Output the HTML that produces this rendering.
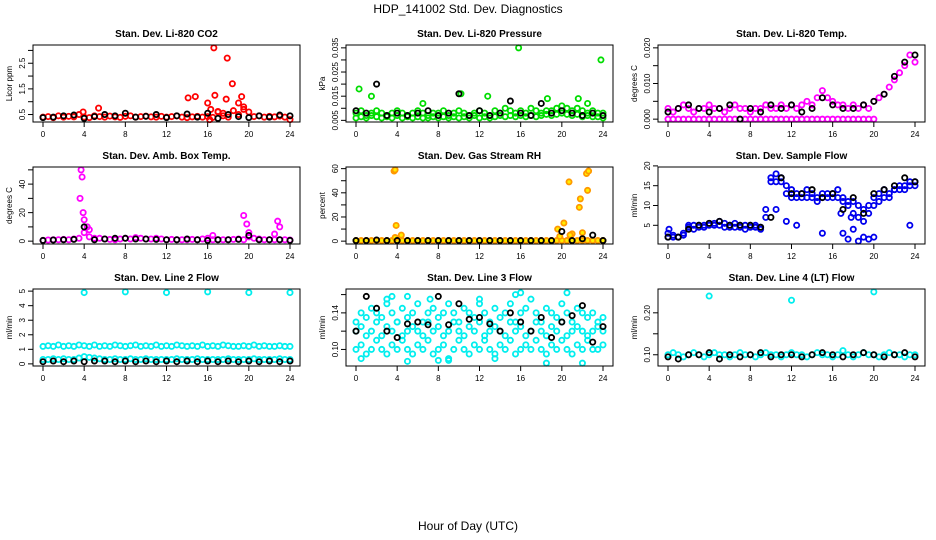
<!DOCTYPE html>
<html><head><meta charset="utf-8">
<style>
html,body{margin:0;padding:0;background:#fff;}
svg{display:block;font-family:"Liberation Sans",sans-serif;}
</style></head>
<body>
<svg id="chart" width="936" height="540" viewBox="0 0 936 540" xmlns="http://www.w3.org/2000/svg">
<rect width="936" height="540" fill="#fff"/>
<text x="468" y="13" text-anchor="middle" font-size="12">HDP_141002  Std. Dev. Diagnostics</text>
<text x="468" y="530" text-anchor="middle" font-size="12">Hour of Day (UTC)</text>
</svg>
<script>
const hours = [0,0.5,1,1.5,2,2.5,3,3.5,4,4.5,5,5.5,6,6.5,7,7.5,8,8.5,9,9.5,10,10.5,11,11.5,12,12.5,13,13.5,14,14.5,15,15.5,16,16.5,17,17.5,18,18.5,19,19.5,20,20.5,21,21.5,22,22.5,23,23.5,24];
const hourly = [0,1,2,3,4,5,6,7,8,9,10,11,12,13,14,15,16,17,18,19,20,21,22,23,24];
const xTicks = [0,4,8,12,16,20,24];

// Panel 1 CO2
const co2Red = [0.4,0.42,0.38,0.45,0.4,0.43,0.41,0.5,0.4,0.38,0.45,0.42,0.4,0.44,0.41,0.39,0.43,0.45,0.4,0.42,0.44,0.41,0.4,0.43,0.4,0.42,0.45,0.4,0.38,0.41,0.43,0.4,0.42,0.39,0.6,0.45,0.4,0.65,0.5,0.7,0.6,0.42,0.45,0.4,0.43,0.41,0.44,0.4,0.3];
const co2RedOutX = [5.4,14.1,14.8,16.0,16.3,16.6,16.7,17.8,17.9,18.4,19.0,19.3,19.5,17.0,17.5,3.9,16.2];
const co2RedOutY = [0.75,1.15,1.2,0.95,0.7,3.1,1.25,1.1,2.7,1.7,0.95,1.2,0.8,0.62,0.55,0.6,0.3];
const co2Black = [0.38,0.4,0.45,0.48,0.35,0.42,0.5,0.45,0.55,0.4,0.43,0.5,0.38,0.45,0.52,0.4,0.55,0.35,0.5,0.42,0.38,0.45,0.4,0.48,0.45];

// Panel 2 Pressure
const presGreen1 = [0.008,0.009,0.007,0.008,0.009,0.008,0.007,0.008,0.009,0.008,0.007,0.008,0.009,0.008,0.007,0.008,0.008,0.009,0.007,0.008,0.009,0.008,0.007,0.008,0.009,0.008,0.007,0.009,0.008,0.01,0.009,0.008,0.009,0.008,0.01,0.009,0.008,0.009,0.009,0.01,0.011,0.01,0.009,0.01,0.009,0.008,0.009,0.008,0.008];
const presGreen2 = [0.006,0.0065,0.006,0.007,0.0065,0.006,0.0065,0.006,0.007,0.006,0.0065,0.006,0.0065,0.006,0.006,0.0065,0.006,0.0065,0.006,0.0065,0.006,0.0065,0.006,0.007,0.006,0.0065,0.006,0.0065,0.007,0.0065,0.007,0.0065,0.007,0.0065,0.007,0.0065,0.007,0.0075,0.007,0.0075,0.008,0.0075,0.007,0.0075,0.0065,0.007,0.0065,0.0065,0.006];
const presOutX = [0.3,10.2,12.8,15.8,23.8,21.6,1.5,18.6,6.5,22.5];
const presOutY = [0.018,0.016,0.015,0.035,0.030,0.014,0.015,0.014,0.012,0.012];
const presBlack = [0.009,0.008,0.02,0.007,0.008,0.007,0.008,0.009,0.007,0.008,0.016,0.007,0.009,0.007,0.008,0.013,0.008,0.007,0.012,0.008,0.009,0.008,0.007,0.008,0.007];

// Panel 3 Temp
const tempPink = [0.003,0.002,0.003,0.004,0.003,0.002,0.003,0.003,0.004,0.003,0.003,0.002,0.003,0.004,0.003,0.003,0.002,0.003,0.003,0.004,0.003,0.003,0.004,0.003,0.004,0.003,0.004,0.005,0.004,0.006,0.008,0.006,0.005,0.004,0.004,0.003,0.004,0.003,0.004,0.003,0.005,0.006,0.007,0.009,0.011,0.013,0.015,0.018,0.016];
const tempPinkZero = [0,0,0,0,0,0,0,0,0,0,0,0,0,0,0,0,0,0,0,0,0,0,0,0,0,0,0,0,0,0,0,0,0,0,0,0,0,0,0,0,0];
const tempBlack = [0.002,0.003,0.004,0.003,0.002,0.003,0.004,0,0.003,0.002,0.004,0.003,0.004,0.002,0.003,0.006,0.004,0.003,0.003,0.004,0.005,0.007,0.012,0.016,0.018];

// Panel 4 Amb Box
const ambMag = [0.5,0.8,1,1,1.2,1,1.5,2,6,3,2,2,1.5,1.2,1,1.5,2,1.5,2.5,2,1.5,1.5,2,1.5,1,1.2,1,1,1,1.2,1,1.5,2,1,1,1,1,1.2,1.5,1,3,2,1.5,1,1,1,1,1,0.8];
const ambOutX = [3.7,3.8,3.9,4.0,4.3,4.5,3.6,19.5,19.8,20,22.8,23,22.5,16.5];
const ambOutY = [50,45,20,15,10,8,30,18,12,6,14,10,5,4];
const ambBlack = [0.5,0.8,1,1.2,10,1,1.5,2,2,1.5,1.5,1.2,1,1,1.5,1,0.5,1,1,1.2,4,1,1,1,0.5];

// Panel 5 RH
const rhOrange = [0.5,0.5,0.5,0.5,0.5,0.5,0.5,0.5,0.5,0.5,0.5,0.5,0.5,0.5,0.5,0.5,0.5,0.5,0.5,0.5,0.5,0.5,0.5,0.5,0.5,0.5,0.5,0.5,0.5,0.5,0.5,0.5,0.5,0.5,0.5,0.5,0.5,0.5,0.5,0.5,0.5,0.5,0.5,0.5,0.5,0.5,0.5,0.5,0.5];
const rhOutX = [3.7,3.8,3.9,4.4,3.8,19.6,20.2,20.7,21.8,21.7,22.4,22.6,22.5,21.0,22.0,19.8,20.8];
const rhOutY = [58,59,13,5,3,10,15,49,35,28,56,58,42,6,7,4,5];
const rhBlack = [0.5,0.5,1,0.5,0.5,0.5,0.5,0.5,0.5,0.5,0.5,0.5,0.5,0.5,0.5,0.5,0.5,0.5,0.5,0.5,8,0.5,2,5,0.5];

// Panel 6 Sample Flow
const flowBlue1 = [2,2,2,2.5,5,5,5,5,5.5,5.5,6,5.5,5,5.5,5,5,5,5,4.5,7,17,18,17,15,14,13,13,14,13,12,13,13,13,14,12,11,11,10,9,10,10,13,14,13,14,15,15,16,16];
const flowBlue2 = [3,2.5,2,3,4.5,4,4.5,4.5,5,5,5,4.5,4.5,4.5,4.5,4,4.5,4.5,4,9,16,16,16,13,12,12,12,12,12,11,12,12,12,12,11,10,8,7,6,8,12,11,12,12,14,14,14,15,15];
const flowOutX = [11.5,12.5,15,17,17.5,18,18.5,19,19.5,20,17.8,23.5,0.1,16.8,10.5];
const flowOutY = [6,5,3,3,1.5,4,1,2,1.5,2,7,5,4,8,9];
const flowBlack = [2,2,4,5,5.5,6,5,5,5,4.5,7,17,13,13,14,12,13,9,12,8,13,14,15,17,16];

// Panel 7 Line 2
const l2Cyan = [1.2,1.25,1.2,1.3,1.2,1.25,1.2,1.3,1.25,1.2,1.3,1.2,1.25,1.2,1.3,1.25,1.2,1.25,1.3,1.2,1.25,1.2,1.3,1.2,1.25,1.2,1.3,1.25,1.2,1.25,1.2,1.3,1.2,1.25,1.2,1.3,1.25,1.2,1.2,1.25,1.2,1.3,1.2,1.25,1.2,1.2,1.25,1.2,1.2];
const l2CyanLow = [0.3,0.3,0.35,0.3,0.35,0.3,0.3,0.4,0.5,0.45,0.4,0.35,0.3,0.3,0.35,0.3,0.3,0.35,0.3,0.3,0.35,0.3,0.3,0.3,0.3,0.3,0.35,0.3,0.3,0.3,0.35,0.3,0.3,0.3,0.3,0.3,0.35,0.3,0.3,0.3,0.3,0.35,0.3,0.3,0.3,0.3,0.35,0.3,0.3];
const l2OutX = [4,8,12,16,20,24];
const l2OutY = [4.9,4.95,4.9,4.95,4.9,4.9];
const l2Black = [0.15,0.2,0.15,0.2,0.15,0.2,0.2,0.15,0.2,0.15,0.2,0.15,0.2,0.15,0.2,0.15,0.2,0.15,0.2,0.15,0.2,0.15,0.2,0.15,0.2];

// Panel 8 Line 3
const l3CyanA = [0.13,0.14,0.135,0.145,0.14,0.135,0.15,0.14,0.13,0.145,0.135,0.14,0.15,0.13,0.14,0.145,0.135,0.14,0.15,0.14,0.13,0.145,0.14,0.135,0.15,0.14,0.13,0.145,0.135,0.14,0.15,0.13,0.14,0.145,0.155,0.14,0.13,0.145,0.14,0.135,0.15,0.14,0.13,0.145,0.14,0.135,0.14,0.13,0.135];
const l3CyanB = [0.1,0.105,0.095,0.1,0.11,0.1,0.095,0.105,0.1,0.11,0.1,0.095,0.105,0.1,0.11,0.095,0.1,0.105,0.09,0.1,0.11,0.1,0.095,0.105,0.1,0.11,0.1,0.095,0.105,0.1,0.11,0.095,0.1,0.105,0.1,0.11,0.1,0.095,0.105,0.1,0.11,0.1,0.095,0.105,0.1,0.11,0.1,0.1,0.105];
const l3CyanC = [0.12,0.125,0.115,0.12,0.13,0.115,0.125,0.12,0.13,0.115,0.12,0.125,0.12,0.115,0.13,0.12,0.125,0.115,0.12,0.13,0.12,0.115,0.125,0.12,0.13,0.115,0.12,0.125,0.12,0.115,0.13,0.12,0.125,0.115,0.12,0.13,0.12,0.115,0.125,0.12,0.13,0.115,0.12,0.125,0.12,0.115,0.12,0.125,0.12];
const l3OutX = [3,3.5,5,0.5,9,12,15.5,16,20.5,18.5,5,8,13.5,22,7.2];
const l3OutY = [0.155,0.158,0.158,0.09,0.088,0.155,0.16,0.162,0.162,0.085,0.087,0.088,0.09,0.085,0.155];
const l3Black = [0.12,0.158,0.145,0.12,0.113,0.128,0.13,0.127,0.158,0.127,0.15,0.133,0.135,0.128,0.12,0.14,0.13,0.12,0.135,0.113,0.13,0.137,0.148,0.108,0.125];

// Panel 9 Line 4
const l4Cyan = [0.1,0.105,0.1,0.095,0.1,0.105,0.1,0.095,0.1,0.105,0.1,0.1,0.095,0.1,0.105,0.1,0.1,0.095,0.1,0.105,0.1,0.1,0.095,0.1,0.105,0.1,0.1,0.095,0.1,0.105,0.1,0.1,0.095,0.1,0.11,0.1,0.095,0.1,0.105,0.1,0.1,0.095,0.1,0.105,0.1,0.1,0.095,0.1,0.1];
const l4OutX = [4,12,20];
const l4OutY = [0.24,0.23,0.25];
const l4Black = [0.095,0.09,0.1,0.1,0.105,0.09,0.1,0.095,0.1,0.105,0.095,0.1,0.1,0.095,0.1,0.105,0.1,0.095,0.1,0.105,0.1,0.095,0.1,0.105,0.095];

const svg = document.getElementById('chart');
const NS = 'http://www.w3.org/2000/svg';
function mk(tag, attrs, parent) {
  const e = document.createElementNS(NS, tag);
  for (const k in attrs) e.setAttribute(k, attrs[k]);
  parent.appendChild(e);
  return e;
}

const colX = [33, 346, 658];
const rowY = [45, 167, 289];
const W = 267, Hh = 77;

function panel(col, row, title, ylab, ymin, ymax, yTicks, yLabels, series, key) {
  const x0 = colX[col], y0 = rowY[row];
  const g = mk('g', {}, svg);
  
  
  const pad = (ymax - ymin) * 0.04;
  const lo = ymin - pad, hi = ymax + pad;
  const sx = h => x0 + 10 + (W - 20) * h / 24;
  const sy = v => y0 + Hh - (v - lo) / (hi - lo) * Hh;
  const t = mk('text', {x: x0 + W / 2, y: y0 - 8, 'text-anchor': 'middle', 'font-size': 10, 'font-weight': 'bold'}, g);
  t.textContent = title;
  
  
  series.forEach(s => {
    const sg = mk('g', {fill: s.fill || 'none', stroke: s.color, 'stroke-width': 1.8}, g);
    
    
    s.ys.forEach((v, i) => {
      if (v === null || v === undefined) return;
      const c = mk('circle', {cx: sx(s.xs[i]), cy: sy(v), r: 2.6}, sg);
      
      
    });
  });
  const b = mk('rect', {x: x0, y: y0, width: W, height: Hh, fill: 'none', stroke: '#000', 'stroke-width': 1}, g);
  
  
  xTicks.forEach(h => {
    mk('line', {x1: sx(h), x2: sx(h), y1: y0 + Hh, y2: y0 + Hh + 5, stroke: '#000'}, g);
    const tl = mk('text', {x: sx(h), y: y0 + Hh + 15, 'text-anchor': 'middle', 'font-size': 8}, g);
    tl.textContent = h;
    
    
  });
  yTicks.forEach((v, i) => {
    mk('line', {x1: x0 - 5, x2: x0, y1: sy(v), y2: sy(v), stroke: '#000'}, g);
    if (yLabels[i] !== '') {
      const tl = mk('text', {x: x0 - 8, y: sy(v), 'text-anchor': 'middle', 'font-size': 8, transform: `rotate(-90 ${x0 - 8} ${sy(v)})`}, g);
      tl.textContent = yLabels[i];
      
      
    }
  });
  const yl = mk('text', {x: x0 - 21, y: y0 + Hh / 2, 'text-anchor': 'middle', 'font-size': 8, transform: `rotate(-90 ${x0 - 21} ${y0 + Hh / 2})`}, g);
  yl.textContent = ylab;
  
  
}

const RED = '#ff0000', BLK = '#000', GRN = '#00dd00', PINK = '#ff00ff', ORG = '#ff9900', BLUE = '#0000ee', CYAN = '#00eeee';

panel(0, 0, 'Stan. Dev. Li-820 CO2', 'Licor ppm', 0.32, 3.1, [0.5,1,1.5,2,2.5,3], ['0.5','','1.5','','2.5',''], [
  {name: 'red', color: RED, xs: hours, ys: co2Red},
  {name: 'red-outliers', color: RED, xs: co2RedOutX, ys: co2RedOutY},
  {name: 'black', color: BLK, xs: hourly, ys: co2Black}], 'co2');

panel(1, 0, 'Stan. Dev. Li-820 Pressure', 'kPa', 0.0055, 0.035, [0.005,0.01,0.015,0.02,0.025,0.03,0.035], ['0.005','','0.015','','0.025','','0.035'], [
  {name: 'green-upper', color: GRN, xs: hours, ys: presGreen1},
  {name: 'green-lower', color: GRN, xs: hours, ys: presGreen2},
  {name: 'green-outliers', color: GRN, xs: presOutX, ys: presOutY},
  {name: 'black', color: BLK, xs: hourly, ys: presBlack}], 'pressure');

panel(2, 0, 'Stan. Dev. Li-820 Temp.', 'degrees C', 0, 0.02, [0,0.005,0.01,0.015,0.02], ['0.000','','0.010','','0.020'], [
  {name: 'pink', color: PINK, xs: hours, ys: tempPink},
  {name: 'pink-zero', color: PINK, xs: hours, ys: tempPinkZero},
  {name: 'black', color: BLK, xs: hourly, ys: tempBlack}], 'temp');

panel(0, 1, 'Stan. Dev. Amb. Box Temp.', 'degrees C', 0, 50, [0,10,20,30,40,50], ['0','','20','','40',''], [
  {name: 'magenta', color: PINK, xs: hours, ys: ambMag},
  {name: 'magenta-outliers', color: PINK, xs: ambOutX, ys: ambOutY},
  {name: 'black', color: BLK, xs: hourly, ys: ambBlack}], 'ambbox');

panel(1, 1, 'Stan. Dev. Gas Stream RH', 'percent', 0, 59, [0,10,20,30,40,50,60], ['0','','20','','40','','60'], [
  {name: 'orange', color: ORG, fill: '#ffee00', xs: hours, ys: rhOrange},
  {name: 'orange-outliers', color: ORG, fill: '#ffee00', xs: rhOutX, ys: rhOutY},
  {name: 'black', color: BLK, xs: hourly, ys: rhBlack}], 'rh');

panel(2, 1, 'Stan. Dev. Sample Flow', 'ml/min', 1, 19, [5,10,15,20], ['5','10','15','20'], [
  {name: 'blue-upper', color: BLUE, xs: hours, ys: flowBlue1},
  {name: 'blue-lower', color: BLUE, xs: hours, ys: flowBlue2},
  {name: 'blue-outliers', color: BLUE, xs: flowOutX, ys: flowOutY},
  {name: 'black', color: BLK, xs: hourly, ys: flowBlack}], 'sampleflow');

panel(0, 2, 'Stan. Dev. Line 2 Flow', 'ml/min', 0.05, 4.95, [0,1,2,3,4,5], ['0','1','2','3','4','5'], [
  {name: 'cyan', color: CYAN, xs: hours, ys: l2Cyan},
  {name: 'cyan-low', color: CYAN, xs: hours, ys: l2CyanLow},
  {name: 'cyan-outliers', color: CYAN, xs: l2OutX, ys: l2OutY},
  {name: 'black', color: BLK, xs: hourly, ys: l2Black}], 'line2');

panel(1, 2, 'Stan. Dev. Line 3 Flow', 'ml/min', 0.085, 0.163, [0.1,0.12,0.14,0.16], ['0.10','','0.14',''], [
  {name: 'cyan-a', color: CYAN, xs: hours, ys: l3CyanA},
  {name: 'cyan-b', color: CYAN, xs: hours, ys: l3CyanB},
  {name: 'cyan-c', color: CYAN, xs: hours, ys: l3CyanC},
  {name: 'cyan-outliers', color: CYAN, xs: l3OutX, ys: l3OutY},
  {name: 'black', color: BLK, xs: hourly, ys: l3Black}], 'line3');

panel(2, 2, 'Stan. Dev. Line 4 (LT) Flow', 'ml/min', 0.08, 0.25, [0.1,0.15,0.2], ['0.10','','0.20'], [
  {name: 'cyan', color: CYAN, xs: hours, ys: l4Cyan},
  {name: 'cyan-outliers', color: CYAN, xs: l4OutX, ys: l4OutY},
  {name: 'black', color: BLK, xs: hourly, ys: l4Black}], 'line4');
</script>
</body></html>
